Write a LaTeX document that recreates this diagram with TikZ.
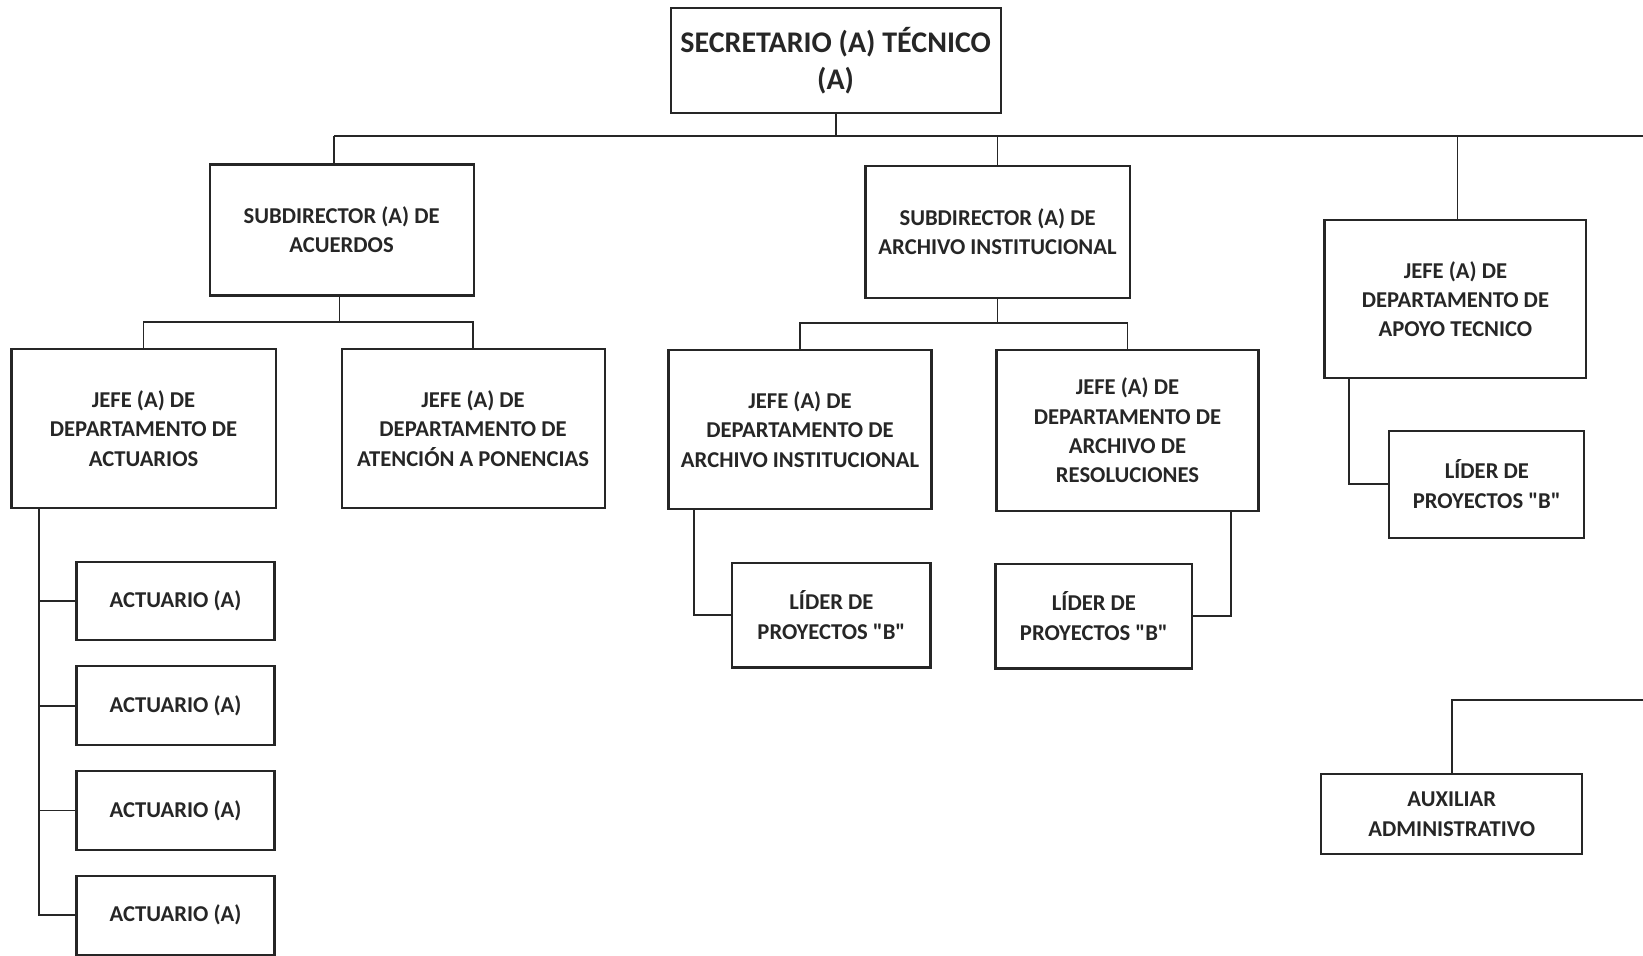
\documentclass[tikz,border=0pt]{standalone}
\usepackage{fontspec}
\setmainfont{Carlito}[Ligatures=TeXOff]
\begin{document}
\begin{tikzpicture}[x=0.5pt,y=-0.5pt,
  box/.style={draw=black!85, line width=1pt, fill=white, align=center, inner sep=0pt,
    font=\bfseries\fontsize{10.8}{14}\selectfont, text=black!85},
  conn/.style={draw=black!85, line width=0.9pt}]
\useasboundingbox[fill=white] (0,0) rectangle (1568,912);

\node[box, minimum width=157.5pt, minimum height=50pt, font=\bfseries\fontsize{14.3}{18}\selectfont] (top) at (797.5,58) {SECRETARIO (A) TÉCNICO\\(A)};

\node[box, minimum width=126pt, minimum height=62.5pt] (sa) at (326,219.5) {SUBDIRECTOR (A) DE\\ACUERDOS};
\node[box, minimum width=126pt, minimum height=63pt] (sai) at (952,221) {SUBDIRECTOR (A) DE\\ARCHIVO INSTITUCIONAL};
\node[box, minimum width=125pt, minimum height=75.5pt] (ja) at (1389,285.5) {JEFE (A) DE\\DEPARTAMENTO DE\\APOYO TECNICO};

\node[box, minimum width=126pt, minimum height=76pt] (jact) at (137,409) {JEFE (A) DE\\DEPARTAMENTO DE\\ACTUARIOS};
\node[box, minimum width=125.5pt, minimum height=76pt] (jat) at (451.5,409) {JEFE (A) DE\\DEPARTAMENTO DE\\ATENCIÓN A PONENCIAS};
\node[box, minimum width=125.5pt, minimum height=76pt] (jai) at (763.5,410) {JEFE (A) DE\\DEPARTAMENTO DE\\ARCHIVO INSTITUCIONAL};
\node[box, minimum width=125pt, minimum height=77pt] (jar) at (1076,411) {JEFE (A) DE\\DEPARTAMENTO DE\\ARCHIVO DE\\RESOLUCIONES};

\node[box, minimum width=94.5pt, minimum height=37.5pt] (act1) at (167.5,573.5) {ACTUARIO (A)};
\node[box, minimum width=94.5pt, minimum height=37.5pt] (act2) at (167.5,673.5) {ACTUARIO (A)};
\node[box, minimum width=94.5pt, minimum height=37.5pt] (act3) at (167.5,773.5) {ACTUARIO (A)};
\node[box, minimum width=94.5pt, minimum height=37.5pt] (act4) at (167.5,873.5) {ACTUARIO (A)};

\node[box, minimum width=94.5pt, minimum height=50pt] (l1) at (793.5,587) {LÍDER DE\\PROYECTOS "B"};
\node[box, minimum width=94pt, minimum height=50pt] (l2) at (1044,588) {LÍDER DE\\PROYECTOS "B"};
\node[box, minimum width=93pt, minimum height=51pt] (l3) at (1419,462) {LÍDER DE\\PROYECTOS "B"};
\node[box, minimum width=124.5pt, minimum height=38pt] (aux) at (1385.5,777) {AUXILIAR\\ADMINISTRATIVO};

% main bus
\coordinate (busL) at (319,130);
\coordinate (busR) at (1568,130);
\draw[conn] (busL) -- (busR);
\draw[conn] (top.south) -- (top.south |- busL);
\draw[conn] (busL) -- (busL |- sa.north);
\draw[conn] (sai.north) -- (sai.north |- busL);
\draw[conn] (1391,130) -- (ja.north -| 1391,0);

% acuerdos
\coordinate (sab) at (324,307);
\draw[conn] (sa.south -| sab) -- (sab);
\draw[conn] (jact.north) |- (sab) -| (jat.north);

% archivo
\coordinate (saib) at (952,308);
\draw[conn] (sai.south) -- (saib);
\draw[conn] (jai.north) |- (saib) -| (jar.north);

% actuarios spine
\coordinate (sp) at (37,485);
\draw[conn] (sp) |- (act4.west);
\draw[conn] (act1.west) -- (act1.west -| sp);
\draw[conn] (act2.west) -- (act2.west -| sp);
\draw[conn] (act3.west) -- (act3.west -| sp);

% lideres
\draw[conn] (jai.south west) ++(25,0) |- (l1.west);
\draw[conn] (jar.south east) ++(-27,0) |- (l2.east);
\draw[conn] (ja.south west) ++(24,0) |- (l3.west);

% auxiliar
\coordinate (auxR) at (1568,668);
\draw[conn] (aux.north) |- (auxR);
\end{tikzpicture}
\end{document}
